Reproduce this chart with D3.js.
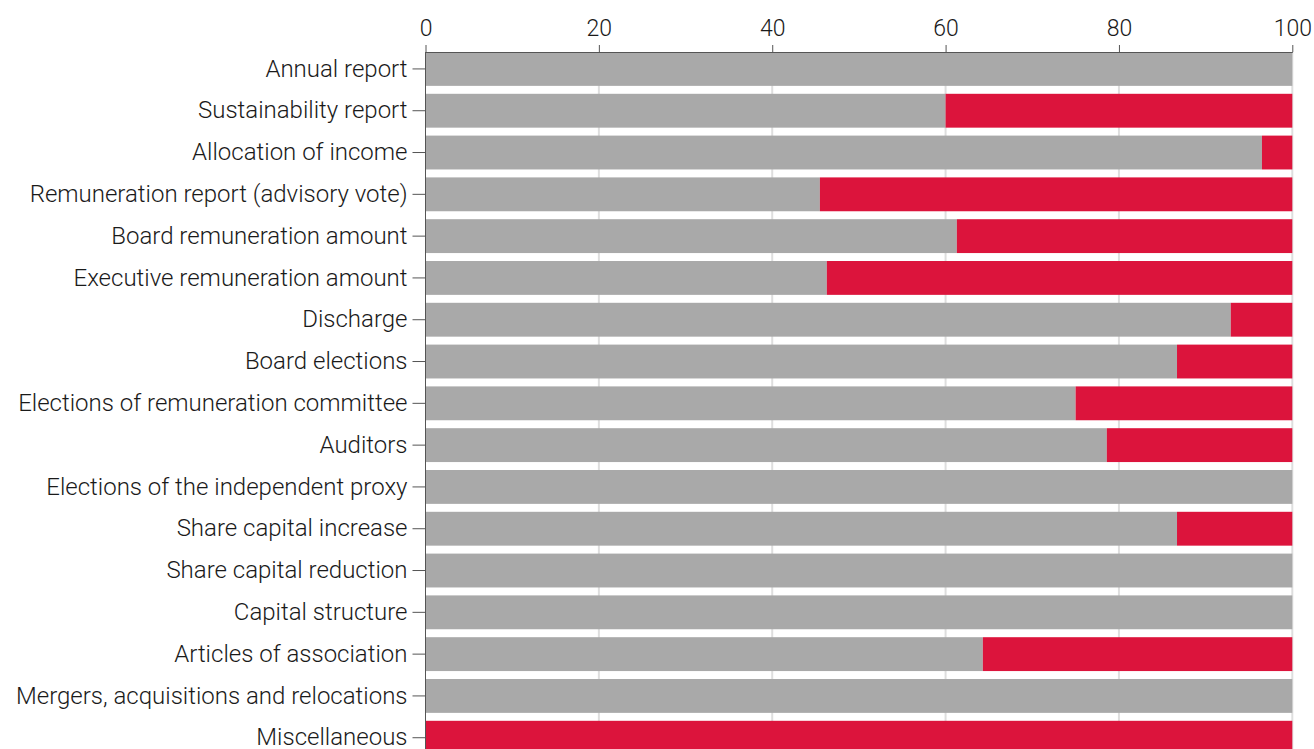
<!DOCTYPE html>
<html><head><meta charset="utf-8">
<script src="https://cdn.jsdelivr.net/npm/d3@7"></script>
<style>
html,body{margin:0;padding:0;background:#fff;overflow:hidden}
text{font-family:Roboto,"Liberation Sans",sans-serif;font-weight:300;fill:#1a1a1a}
</style></head><body>
<svg id="chart" width="1314" height="749"></svg>
<script>
const categories = ["Annual report","Sustainability report","Allocation of income","Remuneration report (advisory vote)","Board remuneration amount","Executive remuneration amount","Discharge","Board elections","Elections of remuneration committee","Auditors","Elections of the independent proxy","Share capital increase","Share capital reduction","Capital structure","Articles of association","Mergers, acquisitions and relocations","Miscellaneous"];
const approve = [100,60,96.5,45.5,61.3,46.3,92.9,86.7,75,78.6,100,86.7,100,100,64.3,100,0];
const reject = approve.map(v => 100 - v);
const xTicks = [0,20,40,60,80,100];
const colors = {approve:"#a9a9a9", reject:"#dc143c"};

const svg = d3.select("#chart");
const mLeft = 425.5, mRight = 1292.3, mTop = 52;
const step = 41.8;
const x = d3.scaleLinear().domain([0,100]).range([mLeft,mRight]);
const y = d3.scaleBand().domain(categories)
  .range([mTop, mTop + categories.length*step - step*0.19])
  .paddingInner(0.19).paddingOuter(0);

// gridlines
svg.append("g").selectAll("line").data(xTicks.slice(1)).join("line")
  .attr("x1", d=>x(d)).attr("x2", d=>x(d))
  .attr("y1", mTop).attr("y2", 749)
  .attr("stroke", "#dedede").attr("stroke-width", 2);

const rows = svg.append("g").selectAll("g").data(categories).join("g");
rows.append("rect")
  .attr("x", x(0)).attr("y", d=>y(d))
  .attr("width", (d,i)=>x(approve[i])-x(0)).attr("height", y.bandwidth())
  .attr("fill", colors.approve);
rows.append("rect")
  .attr("x", (d,i)=>x(approve[i])).attr("y", d=>y(d))
  .attr("width", (d,i)=>x(approve[i]+reject[i])-x(approve[i])).attr("height", y.bandwidth())
  .attr("fill", colors.reject);

// top axis
const xa = svg.append("g").attr("transform", `translate(0,${mTop})`)
  .call(d3.axisTop(x).tickValues(xTicks).tickSize(7).tickPadding(9).tickSizeOuter(0));
xa.select(".domain").attr("stroke", "#555");
xa.selectAll(".tick line").attr("stroke", "#555");
xa.selectAll("text").style("font-size","23px").attr("fill","#1a1a1a");

// left axis
const ya = svg.append("g").attr("transform", `translate(${mLeft},0)`)
  .call(d3.axisLeft(y).tickSize(13).tickPadding(5).tickSizeOuter(0));
ya.select(".domain").attr("stroke", "#555").attr("d", `M0,${mTop}V749`);
ya.selectAll(".tick line").attr("stroke", "#555");
ya.selectAll("text").style("font-size","24px").attr("fill","#1a1a1a");
</script>
</body></html>
